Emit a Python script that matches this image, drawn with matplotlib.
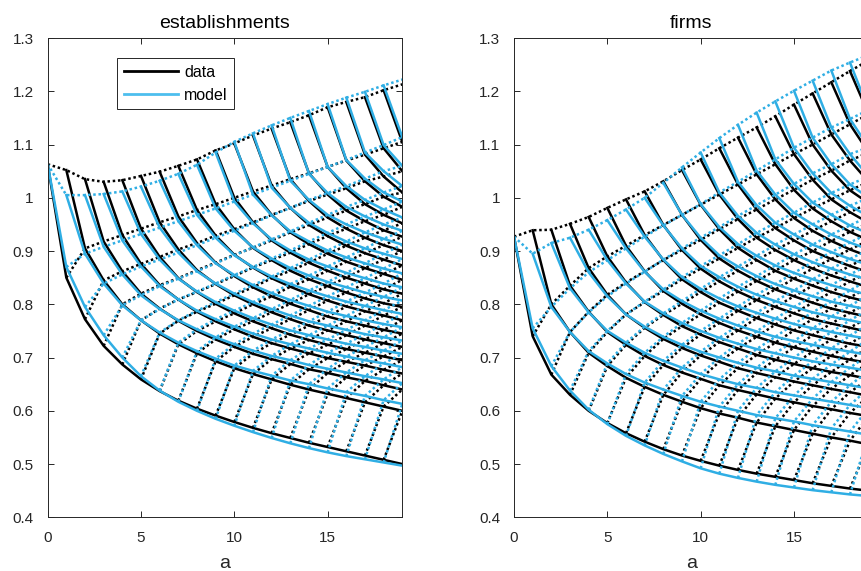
import numpy as np
import matplotlib.pyplot as plt
from matplotlib.lines import Line2D
from matplotlib.ticker import FuncFormatter

plt.rcParams["font.family"] = ["Liberation Sans", "DejaVu Sans"]

ages = [0, 1, 2, 3, 4, 5, 6, 7, 8, 9, 10, 11, 12, 13, 14, 15, 16, 17, 18, 19]

# row c = cohort that starts at age c, values from age c up to 19
est_data = [
    [1.063, 0.850, 0.772, 0.722, 0.687, 0.659, 0.637, 0.619, 0.604, 0.591, 0.579, 0.568, 0.558, 0.549, 0.540, 0.532, 0.524, 0.516, 0.508, 0.500],
    [1.052, 0.905, 0.845, 0.800, 0.770, 0.745, 0.725, 0.708, 0.693, 0.680, 0.669, 0.659, 0.649, 0.640, 0.632, 0.624, 0.616, 0.608, 0.600],
    [1.035, 0.918, 0.862, 0.820, 0.792, 0.769, 0.750, 0.734, 0.720, 0.707, 0.697, 0.688, 0.678, 0.671, 0.663, 0.656, 0.648, 0.640],
    [1.030, 0.930, 0.876, 0.836, 0.809, 0.786, 0.768, 0.753, 0.739, 0.727, 0.717, 0.708, 0.699, 0.692, 0.685, 0.677, 0.670],
    [1.033, 0.942, 0.889, 0.849, 0.823, 0.801, 0.783, 0.768, 0.755, 0.743, 0.733, 0.724, 0.716, 0.709, 0.702, 0.695],
    [1.041, 0.954, 0.903, 0.864, 0.838, 0.817, 0.800, 0.785, 0.772, 0.760, 0.751, 0.742, 0.734, 0.727, 0.720],
    [1.049, 0.965, 0.915, 0.878, 0.853, 0.832, 0.815, 0.801, 0.789, 0.777, 0.768, 0.760, 0.752, 0.745],
    [1.060, 0.977, 0.929, 0.893, 0.869, 0.849, 0.833, 0.819, 0.807, 0.796, 0.787, 0.779, 0.770],
    [1.072, 0.988, 0.941, 0.906, 0.883, 0.863, 0.847, 0.834, 0.822, 0.811, 0.802, 0.795],
    [1.089, 1.000, 0.954, 0.920, 0.897, 0.878, 0.863, 0.850, 0.839, 0.828, 0.820],
    [1.102, 1.012, 0.968, 0.935, 0.913, 0.895, 0.880, 0.868, 0.857, 0.846],
    [1.117, 1.023, 0.981, 0.949, 0.928, 0.910, 0.896, 0.884, 0.873],
    [1.130, 1.035, 0.994, 0.963, 0.942, 0.925, 0.911, 0.900],
    [1.142, 1.046, 1.006, 0.976, 0.956, 0.939, 0.927],
    [1.155, 1.058, 1.018, 0.988, 0.968, 0.952],
    [1.170, 1.070, 1.031, 1.002, 0.983],
    [1.180, 1.081, 1.040, 1.010],
    [1.189, 1.093, 1.050],
    [1.202, 1.105],
    [1.213],
]

est_model = [
    [1.063, 0.870, 0.795, 0.742, 0.700, 0.665, 0.638, 0.617, 0.600, 0.585, 0.572, 0.560, 0.549, 0.539, 0.530, 0.522, 0.515, 0.509, 0.503, 0.497],
    [1.005, 0.895, 0.839, 0.798, 0.770, 0.747, 0.728, 0.712, 0.698, 0.685, 0.675, 0.666, 0.657, 0.650, 0.642, 0.635, 0.628, 0.620, 0.613],
    [1.005, 0.908, 0.856, 0.817, 0.791, 0.770, 0.753, 0.738, 0.725, 0.713, 0.703, 0.695, 0.686, 0.679, 0.672, 0.665, 0.659, 0.652],
    [1.007, 0.920, 0.871, 0.834, 0.809, 0.788, 0.772, 0.758, 0.745, 0.734, 0.725, 0.717, 0.709, 0.702, 0.695, 0.689, 0.682],
    [1.012, 0.932, 0.884, 0.848, 0.824, 0.804, 0.788, 0.774, 0.762, 0.751, 0.742, 0.734, 0.726, 0.720, 0.713, 0.707],
    [1.021, 0.944, 0.897, 0.862, 0.839, 0.820, 0.804, 0.791, 0.779, 0.768, 0.760, 0.752, 0.744, 0.738, 0.732],
    [1.032, 0.956, 0.911, 0.877, 0.855, 0.836, 0.821, 0.808, 0.797, 0.786, 0.778, 0.770, 0.763, 0.757],
    [1.045, 0.968, 0.925, 0.892, 0.870, 0.852, 0.838, 0.826, 0.815, 0.805, 0.797, 0.789, 0.782],
    [1.062, 0.980, 0.938, 0.907, 0.886, 0.868, 0.854, 0.842, 0.832, 0.822, 0.814, 0.807],
    [1.085, 0.993, 0.952, 0.922, 0.901, 0.884, 0.871, 0.859, 0.849, 0.839, 0.832],
    [1.105, 1.006, 0.967, 0.937, 0.918, 0.901, 0.888, 0.877, 0.867, 0.858],
    [1.121, 1.019, 0.981, 0.953, 0.934, 0.918, 0.905, 0.895, 0.885],
    [1.136, 1.032, 0.996, 0.968, 0.950, 0.935, 0.923, 0.912],
    [1.150, 1.045, 1.009, 0.983, 0.965, 0.950, 0.938],
    [1.163, 1.058, 1.022, 0.996, 0.978, 0.963],
    [1.176, 1.071, 1.036, 1.010, 0.993],
    [1.188, 1.085, 1.050, 1.022],
    [1.199, 1.099, 1.060],
    [1.211, 1.114],
    [1.222],
]

firm_data = [
    [0.927, 0.740, 0.668, 0.630, 0.600, 0.577, 0.558, 0.542, 0.528, 0.516, 0.506, 0.497, 0.489, 0.482, 0.476, 0.470, 0.464, 0.459, 0.454, 0.450],
    [0.939, 0.800, 0.748, 0.709, 0.684, 0.662, 0.645, 0.630, 0.617, 0.605, 0.595, 0.587, 0.578, 0.571, 0.564, 0.557, 0.550, 0.544, 0.537],
    [0.940, 0.835, 0.786, 0.748, 0.724, 0.703, 0.686, 0.672, 0.660, 0.648, 0.639, 0.631, 0.623, 0.616, 0.609, 0.603, 0.596, 0.590],
    [0.951, 0.868, 0.818, 0.781, 0.756, 0.735, 0.718, 0.704, 0.692, 0.680, 0.671, 0.663, 0.655, 0.648, 0.641, 0.635, 0.628],
    [0.964, 0.890, 0.841, 0.804, 0.780, 0.759, 0.743, 0.729, 0.717, 0.705, 0.696, 0.688, 0.680, 0.673, 0.667, 0.660],
    [0.981, 0.910, 0.862, 0.825, 0.801, 0.781, 0.765, 0.751, 0.739, 0.728, 0.719, 0.711, 0.703, 0.696, 0.690],
    [0.997, 0.930, 0.883, 0.847, 0.823, 0.803, 0.788, 0.774, 0.762, 0.751, 0.742, 0.734, 0.726, 0.720],
    [1.012, 0.949, 0.902, 0.867, 0.843, 0.824, 0.808, 0.795, 0.783, 0.772, 0.764, 0.756, 0.748],
    [1.031, 0.968, 0.921, 0.886, 0.863, 0.844, 0.828, 0.815, 0.803, 0.792, 0.784, 0.776],
    [1.052, 0.987, 0.941, 0.906, 0.883, 0.863, 0.848, 0.835, 0.823, 0.813, 0.804],
    [1.072, 1.006, 0.960, 0.925, 0.902, 0.883, 0.867, 0.854, 0.843, 0.832],
    [1.093, 1.025, 0.978, 0.943, 0.920, 0.900, 0.885, 0.872, 0.860],
    [1.113, 1.044, 0.997, 0.962, 0.938, 0.919, 0.903, 0.890],
    [1.132, 1.063, 1.015, 0.980, 0.956, 0.936, 0.920],
    [1.153, 1.082, 1.034, 0.997, 0.973, 0.953],
    [1.175, 1.100, 1.051, 1.014, 0.990],
    [1.196, 1.119, 1.070, 1.030],
    [1.217, 1.138, 1.085],
    [1.238, 1.157],
    [1.258],
]

firm_model = [
    [0.927, 0.755, 0.684, 0.638, 0.602, 0.575, 0.553, 0.535, 0.519, 0.505, 0.492, 0.482, 0.474, 0.467, 0.461, 0.456, 0.451, 0.447, 0.443, 0.440],
    [0.895, 0.795, 0.748, 0.712, 0.689, 0.669, 0.653, 0.640, 0.628, 0.617, 0.608, 0.600, 0.592, 0.586, 0.580, 0.573, 0.567, 0.561, 0.555],
    [0.915, 0.830, 0.785, 0.750, 0.728, 0.709, 0.694, 0.681, 0.669, 0.659, 0.650, 0.643, 0.635, 0.629, 0.623, 0.617, 0.611, 0.605],
    [0.925, 0.860, 0.815, 0.781, 0.758, 0.739, 0.724, 0.711, 0.700, 0.690, 0.681, 0.674, 0.666, 0.660, 0.654, 0.648, 0.642],
    [0.940, 0.883, 0.839, 0.805, 0.783, 0.765, 0.750, 0.737, 0.726, 0.716, 0.708, 0.700, 0.693, 0.687, 0.681, 0.675],
    [0.958, 0.905, 0.861, 0.828, 0.806, 0.788, 0.773, 0.760, 0.749, 0.739, 0.731, 0.724, 0.717, 0.711, 0.705],
    [0.978, 0.927, 0.884, 0.851, 0.829, 0.811, 0.796, 0.784, 0.773, 0.763, 0.755, 0.748, 0.741, 0.735],
    [1.000, 0.948, 0.905, 0.872, 0.851, 0.833, 0.818, 0.806, 0.795, 0.785, 0.777, 0.770, 0.763],
    [1.028, 0.968, 0.925, 0.892, 0.871, 0.853, 0.838, 0.826, 0.815, 0.805, 0.797, 0.790],
    [1.057, 0.988, 0.945, 0.913, 0.891, 0.873, 0.859, 0.847, 0.836, 0.826, 0.818],
    [1.085, 1.010, 0.966, 0.934, 0.912, 0.894, 0.879, 0.867, 0.856, 0.846],
    [1.112, 1.030, 0.986, 0.953, 0.931, 0.912, 0.898, 0.885, 0.874],
    [1.137, 1.051, 1.006, 0.972, 0.950, 0.931, 0.916, 0.903],
    [1.160, 1.072, 1.026, 0.991, 0.968, 0.948, 0.933],
    [1.181, 1.094, 1.046, 1.009, 0.985, 0.965],
    [1.201, 1.113, 1.063, 1.025, 1.000],
    [1.220, 1.132, 1.082, 1.040],
    [1.239, 1.148, 1.095],
    [1.254, 1.165],
    [1.268],
]

titles = ["establishments", "firms"]
series_labels = ["data", "model"]
colors = ["black", "#2FAEE4"]
axis_gray = "#262626"
dotted = (0, (1, 1.1))
lw = 1.8


def draw_grid(ax, rows, color):
    # solid: each cohort followed over age
    for c, row in enumerate(rows):
        if len(row) > 1:
            ax.plot(ages[c:], row, "-", color=color, lw=lw)
    # dotted: cohorts joined at the same years since entry
    for k in range(len(ages) - 1):
        cs = [c for c in range(len(rows)) if len(rows[c]) > k]
        xs = [ages[c + k] for c in cs]
        ys = [rows[c][k] for c in cs]
        ax.plot(xs, ys, linestyle=dotted, color=color, lw=lw)


def style_axes(ax, title):
    ax.set_xlim(0, 19)
    ax.set_ylim(0.4, 1.3)
    ax.set_xticks([0, 5, 10, 15])
    ax.set_yticks(np.round(np.arange(0.4, 1.31, 0.1), 1))
    ax.yaxis.set_major_formatter(FuncFormatter(lambda v, p: "%g" % v))
    ax.tick_params(direction="in", top=True, right=True, length=4,
                   width=0.7, colors=axis_gray, labelsize=11, pad=10)
    for sp in ax.spines.values():
        sp.set_color(axis_gray)
        sp.set_linewidth(0.7)
    ax.set_title(title, fontsize=14, color="black", pad=7)
    ax.set_xlabel("a", fontsize=14, color=axis_gray, labelpad=7)


fig = plt.figure(figsize=(8.62, 5.71), dpi=100)
ax1 = fig.add_axes([0.0553, 0.094, 0.4114, 0.8394])
ax2 = fig.add_axes([0.5963, 0.094, 0.4114, 0.8394])

for ax, title, data, model in [(ax1, titles[0], est_data, est_model),
                               (ax2, titles[1], firm_data, firm_model)]:
    draw_grid(ax, data, colors[0])
    draw_grid(ax, model, colors[1])
    style_axes(ax, title)

handles = [Line2D([], [], color=colors[0], lw=2),
           Line2D([], [], color="#4DBEEE", lw=2)]
leg = ax1.legend(handles, series_labels, loc="upper left",
                 bbox_to_anchor=(0.196, 0.958), fontsize=11.5,
                 handlelength=3.4, handletextpad=0.4, borderpad=0.4,
                 labelspacing=0.5, borderaxespad=0, fancybox=False,
                 framealpha=1)
leg.get_frame().set_edgecolor(axis_gray)
leg.get_frame().set_linewidth(0.7)

fig.savefig("out.png", dpi=100)
